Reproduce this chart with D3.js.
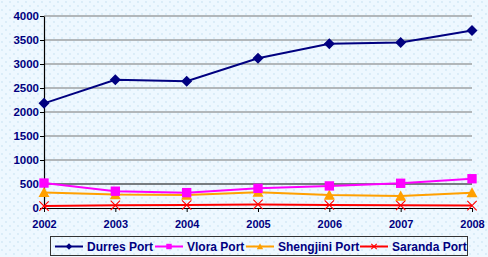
<!DOCTYPE html>
<html>
<head>
<meta charset="utf-8">
<script src="https://cdn.jsdelivr.net/npm/d3@7"></script>
<style>
  body { margin: 0; }
  svg { display: block; }
</style>
</head>
<body>
<div id="chart"></div>
<script>
// data
const years = ["2002", "2003", "2004", "2005", "2006", "2007", "2008"];
const durres = [2180, 2670, 2640, 3120, 3420, 3450, 3700];
const vlora = [520, 350, 320, 410, 460, 515, 610];
const shengjini = [325, 280, 270, 330, 270, 250, 320];
const saranda = [40, 55, 62, 75, 62, 55, 50];
const yTicks = [0, 500, 1000, 1500, 2000, 2500, 3000, 3500, 4000];

const series = [
    { name: "Durres Port", values: durres, color: "#000080", marker: "diamond" },
    { name: "Vlora Port", values: vlora, color: "#ff00ff", marker: "square" },
    { name: "Shengjini Port", values: shengjini, color: "#ffa000", marker: "triangle" },
    { name: "Saranda Port", values: saranda, color: "#ff0000", marker: "cross" }
];

const width = 488;
const height = 257;
const margin = { left: 44, right: 16, top: 16, bottom: 49 };
const font = "Arial, 'Liberation Sans', sans-serif";

const svg = d3.select("#chart")
    .append("svg")
    .attr("width", width)
    .attr("height", height);

// dotted light blue background
const defs = svg.append("defs");
const pat = defs.append("pattern")
    .attr("id", "dots")
    .attr("width", 8)
    .attr("height", 8)
    .attr("patternUnits", "userSpaceOnUse");
pat.append("rect").attr("width", 8).attr("height", 8).attr("fill", "#eef8ff");
pat.append("circle").attr("cx", 2).attr("cy", 2).attr("r", 0.9).attr("fill", "#d2e8f6");
pat.append("circle").attr("cx", 6).attr("cy", 6).attr("r", 0.9).attr("fill", "#d2e8f6");

svg.append("rect")
    .attr("width", width)
    .attr("height", height)
    .attr("fill", "url(#dots)");

const x = d3.scalePoint()
    .domain(years)
    .range([margin.left, width - margin.right]);

const y = d3.scaleLinear()
    .domain([0, 4000])
    .range([height - margin.bottom, margin.top]);

// gridlines
svg.append("g")
    .selectAll("line")
    .data(yTicks.filter(d => d > 0))
    .enter().append("line")
    .attr("x1", margin.left)
    .attr("x2", width - margin.right)
    .attr("y1", d => y(d))
    .attr("y2", d => y(d))
    .attr("stroke", d => d === 500 ? "#000" : "#777")
    .attr("stroke-width", 1.2);

// y axis
const yAxis = svg.append("g")
    .attr("transform", `translate(${margin.left},0)`)
    .call(d3.axisLeft(y).tickValues(yTicks).tickFormat(d3.format("d")).tickSize(4).tickSizeOuter(0));
yAxis.select(".domain").attr("stroke", "#000").attr("stroke-width", 1.2);
yAxis.selectAll(".tick line").attr("stroke", "#000");
yAxis.selectAll("text")
    .attr("x", -5)
    .style("font-family", font)
    .style("font-size", "11.5px")
    .style("font-weight", "bold")
    .attr("fill", "#000080");

// x axis
const xAxis = svg.append("g")
    .attr("transform", `translate(0,${height - margin.bottom})`)
    .call(d3.axisBottom(x).tickSize(4).tickSizeOuter(0).tickPadding(8));
xAxis.select(".domain").attr("stroke", "#000").attr("stroke-width", 1.2);
xAxis.selectAll(".tick line").attr("stroke", "#000");
xAxis.selectAll("text")
    .style("font-family", font)
    .style("font-size", "11px")
    .style("font-weight", "bold")
    .attr("fill", "#000080");

const line = d3.line()
    .x((d, i) => x(years[i]))
    .y(d => y(d));

function drawMarker(g, type, color, r) {
    if (type === "diamond") {
        g.append("path")
            .attr("d", `M0,${-r}L${r},0L0,${r}L${-r},0Z`)
            .attr("fill", color);
    } else if (type === "square") {
        g.append("rect")
            .attr("x", -r * 0.85).attr("y", -r * 0.85)
            .attr("width", r * 1.7).attr("height", r * 1.7)
            .attr("fill", color);
    } else if (type === "triangle") {
        g.append("path")
            .attr("d", `M0,${-r}L${r},${r * 0.85}L${-r},${r * 0.85}Z`)
            .attr("fill", color);
    } else if (type === "cross") {
        const c = r * 0.85;
        g.append("path")
            .attr("d", `M${-c},${-c}L${c},${c}M${-c},${c}L${c},${-c}`)
            .attr("stroke", color)
            .attr("stroke-width", 1.1)
            .attr("fill", "none");
    }
}

// draw series back to front
series.slice().reverse().forEach(s => {
    svg.append("path")
        .datum(s.values)
        .attr("fill", "none")
        .attr("stroke", s.color)
        .attr("stroke-width", 2)
        .attr("d", line);

    s.values.forEach((v, i) => {
        const g = svg.append("g")
            .attr("transform", `translate(${x(years[i])},${y(v)})`);
        drawMarker(g, s.marker, s.color, 5.5);
    });
});

// legend
const legend = svg.append("g");
legend.append("rect")
    .attr("x", 50.5)
    .attr("y", 236.5)
    .attr("width", 417)
    .attr("height", 19)
    .attr("fill", "none")
    .attr("stroke", "#333")
    .attr("stroke-width", 1);

const legendX = [55, 155, 246, 360];
series.forEach((s, i) => {
    const lg = legend.append("g")
        .attr("transform", `translate(${legendX[i]},246.5)`);
    lg.append("line")
        .attr("x1", 0).attr("x2", 28)
        .attr("stroke", s.color)
        .attr("stroke-width", 2);
    const m = lg.append("g").attr("transform", "translate(14,0)");
    drawMarker(m, s.marker, s.color, 3.2);
    lg.append("text")
        .attr("x", 32)
        .attr("y", 4.5)
        .text(s.name)
        .style("font-family", font)
        .style("font-size", "12px")
        .style("font-weight", "bold")
        .attr("fill", "#000080");
});
</script>
</body>
</html>
